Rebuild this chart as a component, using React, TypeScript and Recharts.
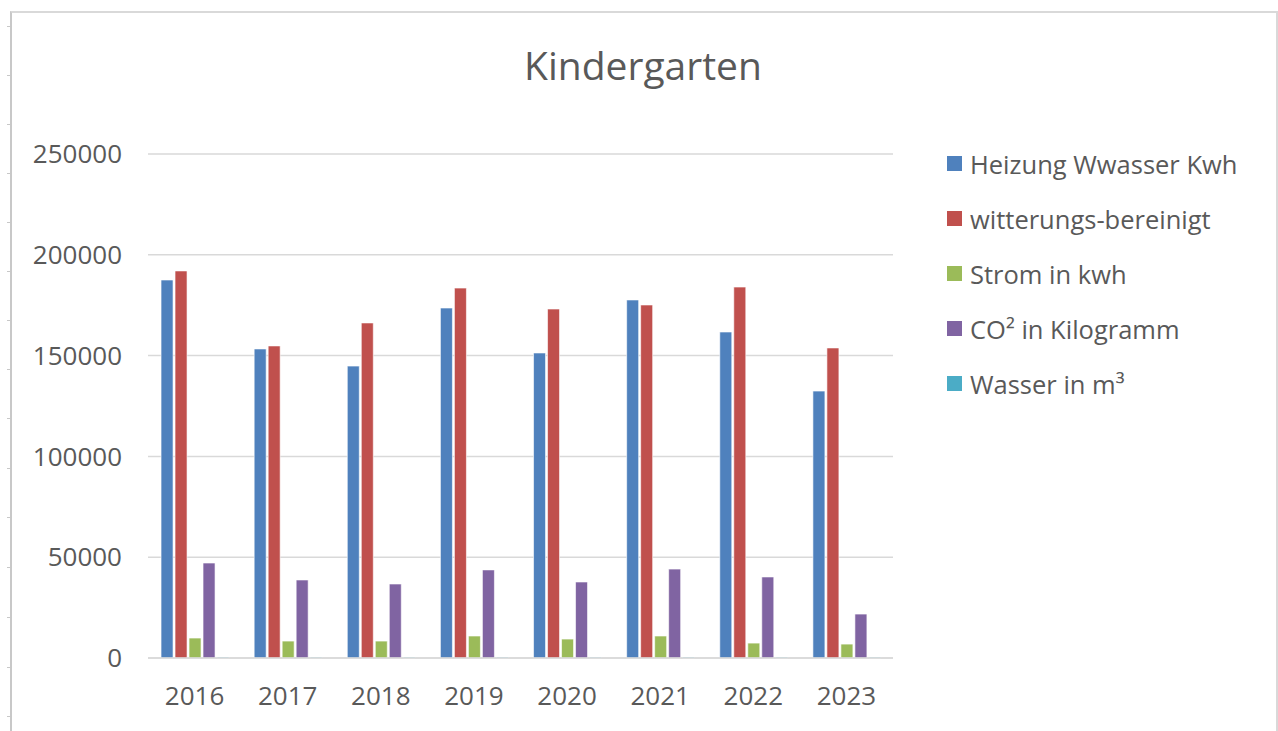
import { BarChart, Bar, XAxis, YAxis, CartesianGrid } from 'recharts';

const years = ['2016', '2017', '2018', '2019', '2020', '2021', '2022', '2023'];
const heizung = [187500, 153300, 144800, 173600, 151300, 177600, 161700, 132400];
const bereinigt = [192000, 154800, 166200, 183500, 173100, 175100, 184000, 153800];
const strom = [9900, 8400, 8400, 10900, 9400, 10900, 7400, 6900];
const co2 = [47100, 38700, 36700, 43700, 37700, 44100, 40200, 21800];
const wasser = [450, 420, 430, 440, 410, 450, 430, 420];
const yTicks = [0, 50000, 100000, 150000, 200000, 250000];

const series = [
  { key: 'heizung', name: 'Heizung Wwasser Kwh', color: '#4F81BD' },
  { key: 'bereinigt', name: 'witterungs-bereinigt', color: '#C0504D' },
  { key: 'strom', name: 'Strom in kwh', color: '#9BBB59' },
  { key: 'co2', name: 'CO² in Kilogramm', color: '#8064A2' },
  { key: 'wasser', name: 'Wasser in m³', color: '#4BACC6' },
];

const data = years.map((year, i) => ({
  year,
  heizung: heizung[i],
  bereinigt: bereinigt[i],
  strom: strom[i],
  co2: co2[i],
  wasser: wasser[i],
}));

const font = '"Open Sans", sans-serif';
const textColor = '#595959';

function App() {
  const leftTicks = [26, 75, 124, 173, 222, 271, 320, 369, 418, 468, 517, 567, 617, 667, 716];
  return (
    <div style={{ position: 'absolute', left: 0, top: 0, width: 1278, height: 731, background: '#fff', overflow: 'hidden', fontFamily: font }}>
      {/* frame */}
      <div style={{ position: 'absolute', left: 10, top: 11, width: 1264, height: 740, borderTop: '2px solid #d9d9d9', borderLeft: '2px solid #c8c8c8', borderRight: '2px solid #d9d9d9' }} />
      {leftTicks.map(y => (
        <div key={'l' + y} style={{ position: 'absolute', left: 7, top: y, width: 4, height: 1, background: '#c8c8c8' }} />
      ))}
      {leftTicks.map(y => (
        <div key={'r' + y} style={{ position: 'absolute', left: 1276, top: y, width: 2, height: 1, background: '#d9d9d9' }} />
      ))}

      <div style={{ position: 'absolute', left: 0, width: 1286, top: 38, textAlign: 'center', fontSize: 39, color: textColor }}>
        Kindergarten
      </div>

      <div style={{ position: 'absolute', left: 0, top: 0 }}>
        <BarChart
          width={1278}
          height={731}
          data={data}
          margin={{ top: 154, right: 385, bottom: 23, left: 0 }}
          barCategoryGap="14%"
          barGap={2}
        >
          <CartesianGrid vertical={false} stroke="#d9d9d9" strokeWidth={1.5} />
          <XAxis
            dataKey="year"
            height={50}
            tickLine={false}
            axisLine={{ stroke: '#d9d9d9', strokeWidth: 1.5 }}
            tick={{ fill: textColor, fontSize: 26, fontFamily: font }}
            tickMargin={23}
            interval={0}
          />
          <YAxis
            width={148}
            domain={[0, 250000]}
            ticks={yTicks}
            tickLine={false}
            axisLine={false}
            tick={{ fill: textColor, fontSize: 26, fontFamily: font }}
            tickMargin={20}
          />
          {series.map(s => (
            <Bar key={s.key} dataKey={s.key} name={s.name} fill={s.color} stroke="#ffffff" strokeOpacity={0.6} strokeWidth={1} isAnimationActive={false} />
          ))}
        </BarChart>
      </div>

      <div style={{ position: 'absolute', left: 947, top: 136 }}>
        {series.map(s => (
          <div key={s.key} style={{ display: 'flex', alignItems: 'center', height: 55 }}>
            <div style={{ width: 15, height: 15, background: s.color, marginRight: 8 }} />
            <span style={{ fontSize: 25.5, color: textColor, whiteSpace: 'nowrap' }}>{s.name}</span>
          </div>
        ))}
      </div>
    </div>
  );
}

export default App;
